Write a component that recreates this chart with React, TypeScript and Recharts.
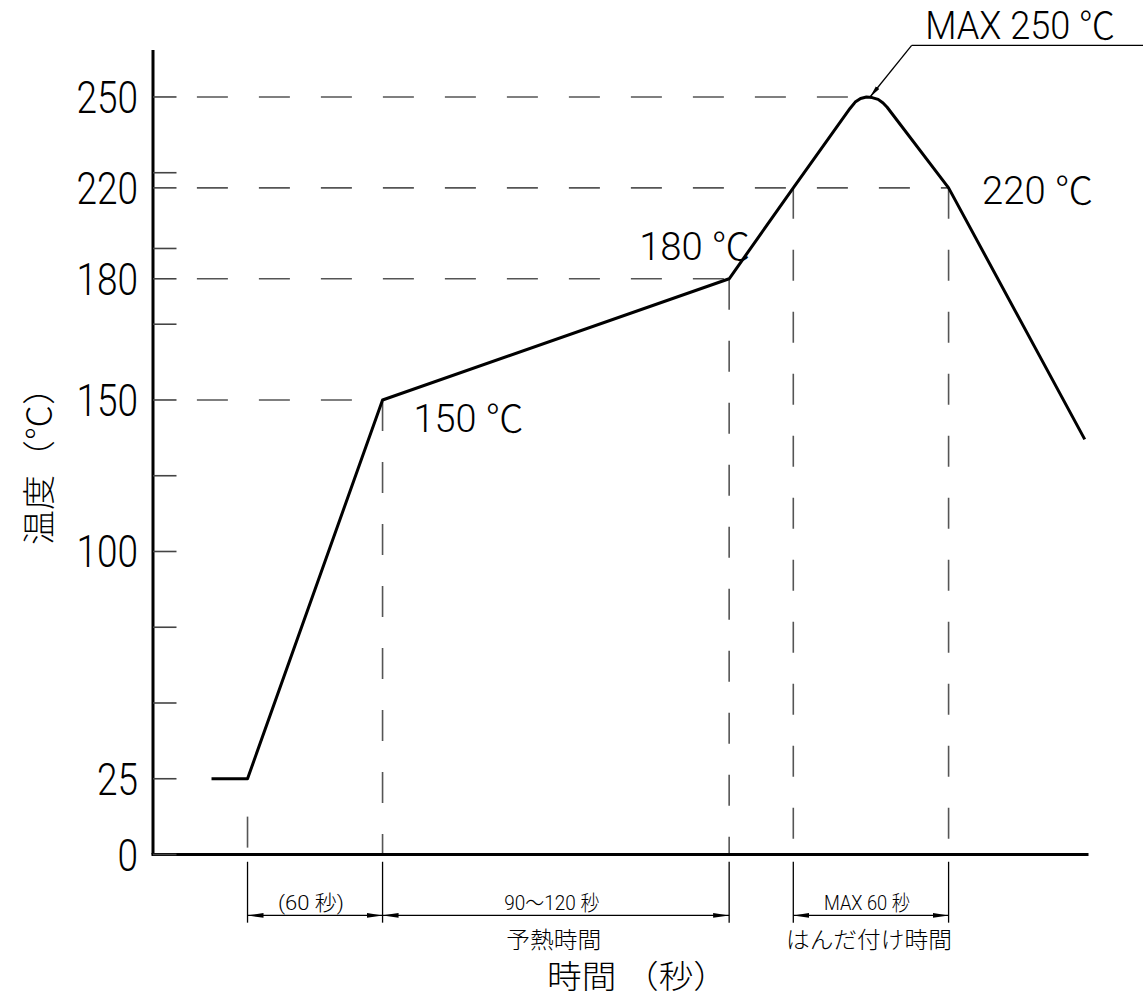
import { LineChart, Line, XAxis, YAxis, ReferenceLine, ReferenceDot } from "recharts"

// ============================================================
// Data (schematic reflow profile)
// ============================================================

// x is a schematic time axis in seconds, y is temperature in ℃
const profileTime = [26, 42, 102, 256, 284.5, 309.7, 312, 314.4, 317, 319.5, 322.2, 324.4, 326.2, 353.5, 414]
const profileTemp = [25, 25, 150, 180, 220, 246.2, 248.3, 249.5, 250, 249.8, 249.2, 248, 246.6, 220, 137]

// labelled temperatures on the vertical axis
const tempLabels = [0, 25, 100, 150, 180, 220, 250]
// evenly spaced marks along the vertical axis (axis units)
const axisMarks = [0, 25, 50, 75, 100, 125, 150, 175, 200, 225, 250]

// the drawing is not to scale: 180 ℃ is drawn where 190 would be
const anchorTemp = [0, 150, 180, 220, 250]
const anchorAxis = [0, 150, 190, 220, 250]

// horizontal dashed guides
const guideTemp = [250, 220, 180, 150]
const guideEnd = [317, 353.5, 256, 102]
const guideStart = 19.5

// vertical dashed drop lines down to the time axis
const dropTime = [42, 102, 256, 284.5, 353.5]
const dropFrom = [12.5, 150, 180, 220, 220]

// dimension spans under the time axis
const spanStart = [42, 102, 284.5]
const spanEnd = [102, 256, 353.5]
const spanTop = ["(60 秒)", "90〜120 秒", "MAX 60 秒"]
const spanBottom = ["", "予熱時間", "はんだ付け時間"]
const spanTopWidth = [66, 95, 86]
const spanBottomWidth = [0, 95, 166]

// temperature callouts next to the curve
const calloutText = ["150 ℃", "180 ℃", "220 ℃"]
const calloutTime = [102, 256, 353.5]
const calloutTemp = [150, 180, 220]

// leader for the peak
const peakTip = { t: 318.6, temp: 250 }
const leaderElbow = { t: 337.1, temp: 267 }
const leaderEnd = 440

// ============================================================
// Helpers
// ============================================================

const DIGITS = "Roboto, 'Noto Sans CJK JP', sans-serif"
const JP = "'Noto Sans CJK JP', 'Noto Sans', sans-serif"

const DIM_Y = -20.1
const EXT_TOP = -2.4
const EXT_BOTTOM = -22.5

function toAxis(temp: number): number {
  if (temp <= anchorTemp[0]) return temp
  for (let i = 1; i < anchorTemp.length; i++) {
    if (temp <= anchorTemp[i]) {
      const f = (temp - anchorTemp[i - 1]) / (anchorTemp[i] - anchorTemp[i - 1])
      return anchorAxis[i - 1] + f * (anchorAxis[i] - anchorAxis[i - 1])
    }
  }
  return anchorAxis[anchorAxis.length - 1] + temp - anchorTemp[anchorTemp.length - 1]
}

const chartData = profileTime.map((t, i) => ({ t, temp: toAxis(profileTemp[i]) }))
const tickLabel = new Map(tempLabels.map((v) => [toAxis(v), String(v)]))
const yTicks = Array.from(new Set([...axisMarks, ...tempLabels.map(toAxis)])).sort((a, b) => a - b)

function TempTick(props: any) {
  const { x, y, payload } = props
  const label = tickLabel.get(payload.value)
  return (
    <g>
      <line x1={x} y1={y} x2={x + 23.5} y2={y} stroke="#444" strokeWidth={1.6} />
      {label !== undefined && (
        <text
          x={x - 15}
          y={y + 16}
          textAnchor="end"
          fontFamily={DIGITS}
          fontSize={44}
          fontWeight={300}
          fill="#000"
          textLength={label.length * 20.5}
          lengthAdjust="spacingAndGlyphs"
        >
          {label}
        </text>
      )}
    </g>
  )
}

function note(
  key: string,
  t: number,
  temp: number,
  text: string,
  dx: number,
  dy: number,
  size: number,
  width: number,
  font: string,
  anchor: "start" | "middle" | "end" = "start"
) {
  return (
    <ReferenceDot
      key={key}
      x={t}
      y={toAxis(temp)}
      r={0}
      ifOverflow="visible"
      isFront
      shape={(p: any) => (
        <text
          x={p.cx + dx}
          y={p.cy + dy}
          textAnchor={anchor}
          fontFamily={font}
          fontSize={size}
          fontWeight={300}
          fill="#000"
          textLength={width}
          lengthAdjust="spacingAndGlyphs"
        >
          {text}
        </text>
      )}
    />
  )
}

const guideStyle = { stroke: "#555", strokeWidth: 1.6, strokeDasharray: "31 31" }
const thinStyle = { stroke: "#000", strokeWidth: 1.3 }

// ============================================================
// Chart
// ============================================================

export default function App() {
  return (
    <div style={{ position: "absolute", left: 0, top: 0, width: 1143, height: 1005, background: "#fff" }}>
      <LineChart width={1143} height={1005} data={chartData} margin={{ top: 50, right: 56, bottom: 0, left: 0 }}>
        <defs>
          <marker
            id="dimArrow"
            viewBox="0 0 16 6"
            refX={16}
            refY={3}
            markerWidth={16}
            markerHeight={6}
            markerUnits="userSpaceOnUse"
            orient="auto-start-reverse"
          >
            <path d="M0,0.6 L16,3 L0,5.4 Z" fill="#000" />
          </marker>
          <marker
            id="leaderArrow"
            viewBox="0 0 12 5"
            refX={12}
            refY={2.5}
            markerWidth={12}
            markerHeight={5}
            markerUnits="userSpaceOnUse"
            orient="auto"
          >
            <path d="M0,0.4 L12,2.5 L0,4.6 Z" fill="#000" />
          </marker>
        </defs>

        <XAxis
          type="number"
          dataKey="t"
          domain={[0, 415]}
          tick={false}
          tickLine={false}
          height={150.5}
          axisLine={{ stroke: "#000", strokeWidth: 3, strokeLinecap: "square" }}
        />
        <YAxis
          type="number"
          domain={[0, 265.5]}
          ticks={yTicks}
          interval={0}
          width={153}
          tickSize={0}
          tickMargin={0}
          tickLine={false}
          tick={(p: any) => <TempTick {...p} />}
          axisLine={{ stroke: "#000", strokeWidth: 3 }}
        />

        {/* horizontal dashed guides */}
        {guideTemp.map((temp, i) => (
          <ReferenceLine
            key={`h${i}`}
            ifOverflow="visible"
            segment={[
              { x: guideStart, y: toAxis(temp) },
              { x: guideEnd[i], y: toAxis(temp) },
            ]}
            {...guideStyle}
          />
        ))}

        {/* vertical dashed drop lines */}
        {dropTime.map((t, i) => (
          <ReferenceLine
            key={`v${i}`}
            ifOverflow="visible"
            segment={[
              { x: t, y: toAxis(dropFrom[i]) },
              { x: t, y: 0 },
            ]}
            {...guideStyle}
          />
        ))}

        {/* extension lines below the axis */}
        {dropTime.map((t, i) => (
          <ReferenceLine
            key={`e${i}`}
            ifOverflow="visible"
            segment={[
              { x: t, y: EXT_TOP },
              { x: t, y: EXT_BOTTOM },
            ]}
            {...thinStyle}
          />
        ))}

        {/* dimension lines */}
        {spanStart.map((s, i) => (
          <ReferenceLine
            key={`d${i}`}
            ifOverflow="visible"
            segment={[
              { x: s, y: DIM_Y },
              { x: spanEnd[i], y: DIM_Y },
            ]}
            {...thinStyle}
            markerStart="url(#dimArrow)"
            markerEnd="url(#dimArrow)"
          />
        ))}

        {/* peak leader */}
        <ReferenceLine
          ifOverflow="visible"
          segment={[
            { x: leaderElbow.t, y: toAxis(leaderElbow.temp) },
            { x: leaderEnd, y: toAxis(leaderElbow.temp) },
          ]}
          {...thinStyle}
        />
        <ReferenceLine
          ifOverflow="visible"
          segment={[
            { x: leaderElbow.t, y: toAxis(leaderElbow.temp) },
            { x: peakTip.t, y: toAxis(peakTip.temp) },
          ]}
          {...thinStyle}
          markerEnd="url(#leaderArrow)"
        />

        <Line
          type="linear"
          dataKey="temp"
          stroke="#000"
          strokeWidth={3}
          strokeLinejoin="round"
          dot={false}
          activeDot={false}
          isAnimationActive={false}
        />

        {/* callouts */}
        {note("c0", calloutTime[0], calloutTemp[0], calloutText[0], 31, 32, 38, 110, DIGITS)}
        {note("c1", calloutTime[1], calloutTemp[1], calloutText[1], -90, -19, 38, 111, DIGITS)}
        {note("c2", calloutTime[2], calloutTemp[2], calloutText[2], 33.5, 16.5, 38, 111, DIGITS)}
        {note("max", leaderElbow.t, leaderElbow.temp, "MAX 250 ℃", 13.5, -6.8, 38, 190, DIGITS)}

        {/* dimension texts */}
        {spanStart.map((s, i) =>
          note(`st${i}`, (s + spanEnd[i]) / 2, DIM_Y, spanTop[i], -4, -5, 21, spanTopWidth[i], DIGITS, "middle")
        )}
        {spanStart.map((s, i) =>
          spanBottom[i]
            ? note(`sb${i}`, (s + spanEnd[i]) / 2, DIM_Y, spanBottom[i], -2, 33, 23, spanBottomWidth[i], JP, "middle")
            : null
        )}

        {/* axis titles */}
        <text
          transform="translate(40,457.5) rotate(-90)"
          x={0}
          y={11}
          textAnchor="middle"
          fontFamily={JP}
          fontSize={33}
          fontWeight={300}
          fill="#000"
          textLength={175}
          lengthAdjust="spacingAndGlyphs"
        >
          温度（℃）
        </text>
        <text
          x={547}
          y={988}
          fontFamily={JP}
          fontSize={32}
          fontWeight={300}
          fill="#000"
          textLength={181}
          lengthAdjust="spacingAndGlyphs"
        >
          時間 （秒）
        </text>
      </LineChart>
    </div>
  )
}
